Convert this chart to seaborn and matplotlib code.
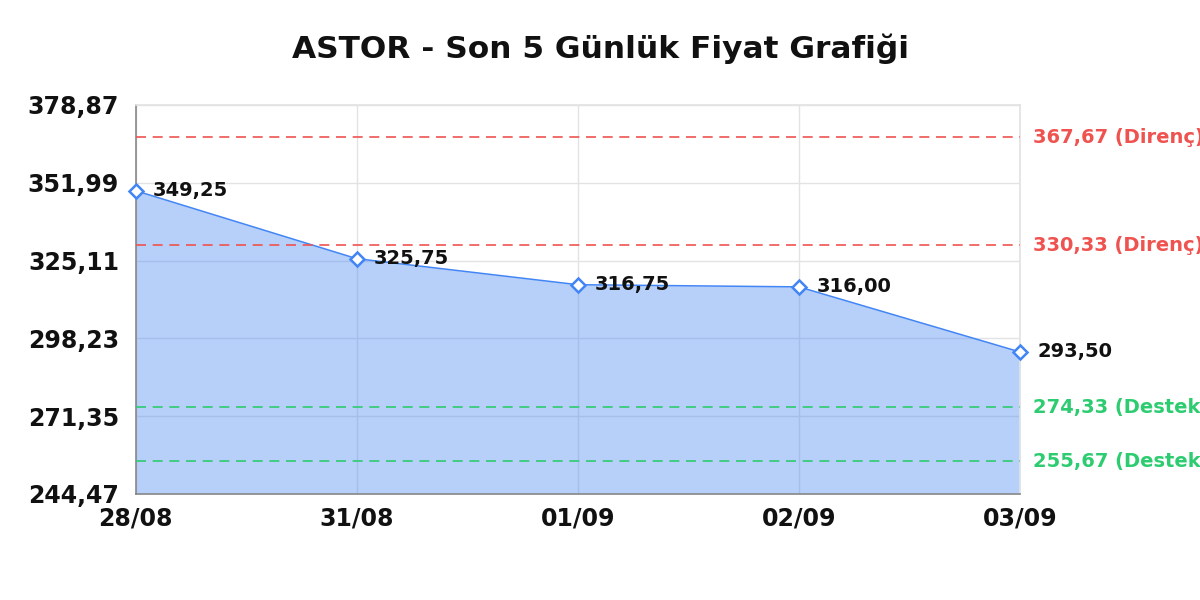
import matplotlib
matplotlib.use("Agg")
import matplotlib.pyplot as plt
import seaborn as sns
import numpy as np
import pandas as pd

dates = ["28/08", "31/08", "01/09", "02/09", "03/09"]
prices = [349.25, 325.75, 316.75, 316.00, 293.50]
resistance = [367.67, 330.33]
support = [274.33, 255.67]
yticks = [244.47, 271.35, 298.23, 325.11, 351.99, 378.87]
title = "ASTOR - Son 5 Günlük Fiyat Grafiği"

sns.set_theme(style="white")
plt.rcParams['font.family'] = ['DejaVu Sans']

df = pd.DataFrame({"pos": np.arange(len(dates)), "price": prices, "date": dates})

fig = plt.figure(figsize=(12, 6), dpi=100)
ax = fig.add_axes([0.113, 0.177, 0.737, 0.648])

blue = "#4285f4"
red = "#ef5350"
green = "#2ecc71"

ax.fill_between(df["pos"], df["price"], yticks[0], color=blue, alpha=0.38, lw=0, zorder=2)
sns.lineplot(data=df, x="pos", y="price", ax=ax, color=blue, lw=1.1, zorder=3,
             marker="D", markersize=7, markerfacecolor="white",
             markeredgecolor=blue, markeredgewidth=1.8, clip_on=False)

for x, y in zip(df["pos"], df["price"]):
    ax.annotate(f"{y:.2f}".replace(".", ","), (x, y), xytext=(12.5, 0),
                textcoords="offset points", va="center", ha="left",
                fontsize=14, fontweight="bold", color="#111111", zorder=5,
                annotation_clip=False)

for r in resistance:
    ax.axhline(r, color=red, ls=(0, (6, 4)), lw=1.2, zorder=4)
    ax.annotate(f"{r:.2f}".replace(".", ",") + " (Direnç)", (1, r),
                xycoords=("axes fraction", "data"), xytext=(9.5, 0),
                textcoords="offset points", va="center", ha="left",
                fontsize=14, fontweight="bold", color=red, annotation_clip=False)
for s in support:
    ax.axhline(s, color=green, ls=(0, (6, 4)), lw=1.2, zorder=4)
    ax.annotate(f"{s:.2f}".replace(".", ",") + " (Destek)", (1, s),
                xycoords=("axes fraction", "data"), xytext=(9.5, 0),
                textcoords="offset points", va="center", ha="left",
                fontsize=14, fontweight="bold", color=green, annotation_clip=False)

ax.set_xlim(0, len(dates) - 1)
ax.set_ylim(yticks[0], yticks[-1])
ax.set_xticks(df["pos"])
ax.set_xticklabels(dates, fontsize=17, fontweight="bold", color="#111111")
ax.set_yticks(yticks)
ax.set_yticklabels([f"{t:.2f}".replace(".", ",") for t in yticks],
                   fontsize=17, fontweight="bold", color="#111111")
ax.tick_params(axis="y", length=0, pad=12)
ax.tick_params(axis="x", length=0, pad=9)
ax.grid(True, color="#e3e3e3", lw=1, zorder=1)
ax.set_axisbelow(True)
ax.set_xlabel("")
ax.set_ylabel("")
for side in ["top", "right"]:
    ax.spines[side].set_color("#e3e3e3")
for side in ["left", "bottom"]:
    ax.spines[side].set_color("#888888")
    ax.spines[side].set_linewidth(1.2)

fig.text(0.5, 0.918, title, fontsize=22.5, fontweight="bold", ha="center",
         va="center", color="#111111")
fig.savefig("out.png", dpi=100)
